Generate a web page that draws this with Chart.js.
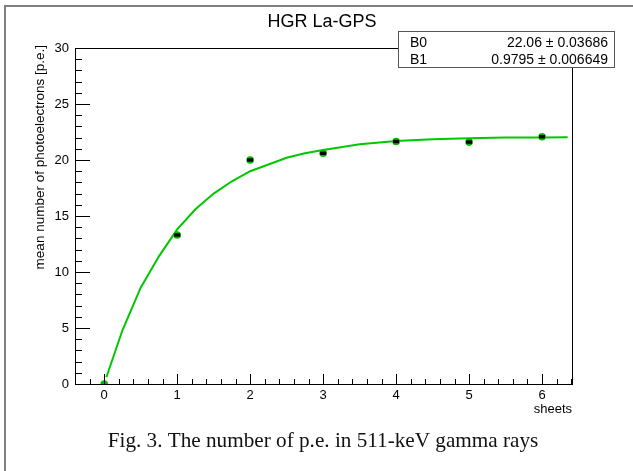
<!DOCTYPE html>
<html>
<head>
<meta charset="utf-8">
<script src="https://cdn.jsdelivr.net/npm/chart.js@4/dist/chart.umd.min.js"></script>
<style>
html,body{margin:0;padding:0;background:#fff;}
#wrap{position:relative;width:633px;height:471px;}
canvas{display:block;}
</style>
</head>
<body>
<div id="wrap"><canvas id="c" width="633" height="471"></canvas></div>
<script>
// ---- data ----
const chartTitle = "HGR La-GPS";
const caption = "Fig. 3. The number of p.e. in 511-keV gamma rays";
const yAxisTitle = "mean number of photoelectrons [p.e.]";
const xAxisTitle = "sheets";
const sheets = [0, 1, 2, 3, 4, 5, 6];
const meanPE = [0, 13.3, 20.0, 20.6, 21.65, 21.6, 22.08];
const meanPEErr = [0, 0.15, 0.15, 0.15, 0.15, 0.15, 0.15];
const fitX = [0.03, 0.25, 0.5, 0.75, 1.0, 1.25, 1.5, 1.75, 2.0, 2.25, 2.5, 2.75, 3.0, 3.5, 4.0, 4.5, 5.0, 5.5, 6.0, 6.35];
const fitY = [0.6, 4.8, 8.6, 11.4, 13.8, 15.6, 17.0, 18.1, 19.0, 19.6, 20.2, 20.6, 20.9, 21.4, 21.7, 21.85, 21.95, 22.0, 22.02, 22.04];
const statNames = ["B0", "B1"];
const statValues = ["22.06 \u00b1 0.03686", "0.9795 \u00b1 0.006649"];
const xTickValues = [0, 1, 2, 3, 4, 5, 6];
const yTickValues = [0, 5, 10, 15, 20, 25, 30];
const xRange = [-0.4, 6.41];
const yRange = [0, 30];

const FONT = "'Liberation Sans', Arial, sans-serif";

const rootPlugin = {
  id: 'rootStyle',
  afterDatasetsDraw(chart) {
    const ctx = chart.ctx;
    const xs = chart.scales.x, ys = chart.scales.y;
    ctx.save();
    ctx.fillStyle = '#000';
    for (let i = 0; i < sheets.length; i++) {
      if (!meanPEErr[i]) continue;
      const px = xs.getPixelForValue(sheets[i]);
      const y1 = ys.getPixelForValue(meanPE[i] + meanPEErr[i]);
      const y2 = ys.getPixelForValue(meanPE[i] - meanPEErr[i]);
      const h = Math.max(2.5, y2 - y1);
      ctx.fillRect(px - 3, (y1 + y2) / 2 - h / 2, 6, h);
    }
    ctx.restore();
  },
  afterDraw(chart) {
    const ctx = chart.ctx;
    const xs = chart.scales.x, ys = chart.scales.y;
    const a = chart.chartArea;
    ctx.save();
    // frame
    ctx.strokeStyle = '#000';
    ctx.lineWidth = 1;
    ctx.strokeRect(Math.round(a.left) + 0.5, Math.round(a.top) + 0.5, Math.round(a.right - a.left), Math.round(a.bottom - a.top));
    // y ticks (inside)
    ctx.beginPath();
    for (let v = yRange[0]; v <= yRange[1] + 1e-9; v += 1) {
      const py = Math.round(ys.getPixelForValue(v)) + 0.5;
      const len = (Math.abs(v % 5) < 1e-9) ? 15 : 7;
      ctx.moveTo(a.left, py); ctx.lineTo(a.left + len, py);
    }
    // x ticks (inside)
    for (let k = -2; k <= 32; k++) {
      const v = k * 0.2;
      if (v < xRange[0] - 1e-9 || v > xRange[1] + 1e-9) continue;
      const px = Math.round(xs.getPixelForValue(v)) + 0.5;
      const len = (k % 5 === 0) ? 10 : 5;
      ctx.moveTo(px, a.bottom); ctx.lineTo(px, a.bottom - len);
    }
    ctx.stroke();

    // outer pad border
    ctx.strokeStyle = '#808080';
    ctx.lineWidth = 2;
    ctx.beginPath();
    ctx.moveTo(5, 471); ctx.lineTo(5, 6); ctx.lineTo(633, 6);
    ctx.stroke();

    // title
    ctx.fillStyle = '#000';
    ctx.font = '18px ' + FONT;
    ctx.textAlign = 'center';
    ctx.textBaseline = 'alphabetic';
    ctx.fillText(chartTitle, 322, 27);

    // y axis title
    ctx.save();
    ctx.translate(44, a.top - 3);
    ctx.rotate(-Math.PI / 2);
    ctx.font = '13.5px ' + FONT;
    ctx.textAlign = 'right';
    ctx.fillText(yAxisTitle, 0, 0);
    ctx.restore();

    // x axis title
    ctx.font = '13px ' + FONT;
    ctx.textAlign = 'right';
    ctx.fillText(xAxisTitle, a.right, 413);

    // stats box
    const bx = 398, by = 31, bw = 217, bh = 36;
    ctx.fillStyle = '#fff';
    ctx.fillRect(bx, by, bw, bh);
    ctx.strokeStyle = '#555';
    ctx.lineWidth = 1;
    ctx.strokeRect(bx + 0.5, by + 0.5, bw - 1, bh);
    ctx.fillStyle = '#000';
    ctx.font = '14px ' + FONT;
    for (let i = 0; i < statNames.length; i++) {
      const yy = by + 16 + i * 17;
      ctx.textAlign = 'left';
      ctx.fillText(statNames[i], bx + 12, yy);
      ctx.textAlign = 'right';
      ctx.fillText(statValues[i], bx + bw - 7, yy);
    }

    // caption
    ctx.font = "21.2px 'Liberation Serif', 'Times New Roman', serif";
    ctx.textAlign = 'center';
    ctx.fillStyle = '#111';
    ctx.fillText(caption, 323, 447);
    ctx.restore();
  }
};

const ctx = document.getElementById('c').getContext('2d');
new Chart(ctx, {
  type: 'scatter',
  data: {
    datasets: [
      {
        type: 'line',
        data: fitX.map((x, i) => ({ x: x, y: fitY[i] })),
        borderColor: 'rgb(0,200,0)',
        borderWidth: 2,
        pointRadius: 0,
        tension: 0,
        fill: false,
        order: 2
      },
      {
        type: 'scatter',
        data: sheets.map((x, i) => ({ x: x, y: meanPE[i] })),
        backgroundColor: 'rgb(0,185,0)',
        borderColor: 'rgb(0,185,0)',
        pointRadius: 3.8,
        borderWidth: 0,
        order: 1
      }
    ]
  },
  options: {
    responsive: false,
    animation: false,
    devicePixelRatio: 1,
    layout: { padding: { left: 0, top: 48, right: 61, bottom: 0 } },
    plugins: { legend: { display: false }, tooltip: { enabled: false }, title: { display: false } },
    scales: {
      x: {
        type: 'linear',
        min: xRange[0], max: xRange[1],
        grid: { display: false, drawTicks: false },
        border: { display: false },
        afterBuildTicks: (s) => { s.ticks = xTickValues.map(v => ({ value: v })); },
        afterFit: (s) => { s.height = 87; },
        ticks: { color: '#000', font: { family: FONT, size: 13 }, padding: 4, maxRotation: 0 }
      },
      y: {
        type: 'linear',
        min: yRange[0], max: yRange[1],
        grid: { display: false, drawTicks: false },
        border: { display: false },
        afterBuildTicks: (s) => { s.ticks = yTickValues.map(v => ({ value: v })); },
        afterFit: (s) => { s.width = 75; },
        ticks: { color: '#000', font: { family: FONT, size: 13 }, padding: 6 }
      }
    }
  },
  plugins: [rootPlugin]
});
</script>
</body>
</html>
